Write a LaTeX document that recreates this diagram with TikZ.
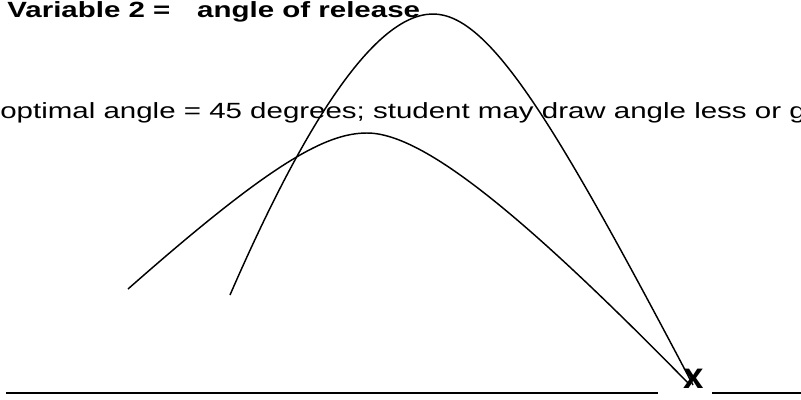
\documentclass[tikz,border=0pt]{standalone}
\usepackage{fontspec}
\setmainfont{Liberation Sans}
\begin{document}
\begin{tikzpicture}[x=0.75pt,y=-0.75pt,
  txt/.style={inner sep=0pt, anchor=base west, font=\fontsize{16.5pt}{19pt}\selectfont, xscale=1.34},
  arc/.style={line width=1.1pt, line join=round},
  ground/.style={line width=1.5pt}]
\useasboundingbox (0,0) rectangle (801,400);
\clip (0,0) rectangle (801,400);
\node[txt, font=\fontsize{16.5pt}{19pt}\selectfont\bfseries] (title) at (7,17) {Variable 2 =\hspace{15pt}angle of release};
\node[txt] (note) at (0,118) {optimal angle = 45 degrees; student may draw angle less or g};
% trajectories
\coordinate (s1) at (230,295);
\coordinate (p1) at (433,14);
\coordinate (e1) at (693,385);
\coordinate (s2) at (128,289);
\coordinate (p2) at (367,133);
\coordinate (e2) at (690,385);
\draw[arc] (s1) .. controls (300,134) and (372,14) .. (p1)
               .. controls (490,14) and (556,125) .. (e1);
\draw[arc] (s2) .. controls (269.6,164.2) and (325,133) .. (p2)
               .. controls (425,133) and (529.5,221.2) .. (e2);
% ground line and landing mark
\coordinate (g1) at (6,393);
\coordinate (g2) at (658,393);
\coordinate (g3) at (712,393);
\coordinate (g4) at (801,393);
\draw[ground] (g1) -- (g2);
\draw[ground] (g3) -- (g4);
\node[inner sep=0pt, anchor=base, font=\fontsize{27.5pt}{30pt}\selectfont\bfseries] (mark) at (694,388) {x};
\end{tikzpicture}
\end{document}
